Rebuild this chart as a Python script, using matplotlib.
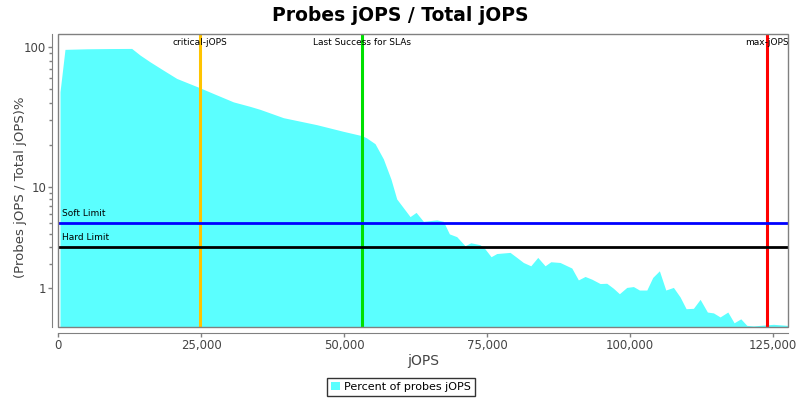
import numpy as np
import matplotlib
matplotlib.use("Agg")
import matplotlib.pyplot as plt
from matplotlib.patches import Rectangle, Patch
from matplotlib.ticker import FixedLocator, FuncFormatter, NullFormatter

# ---- data ----
jops = [350, 1220, 5000, 9000, 12880, 14340, 16080, 18410, 20750, 24700,
        27150, 30650, 33570, 35310, 39390, 45230, 49880, 53090, 53900, 55420,
        56870, 58200, 59210, 61540, 62590, 63870, 66200, 67360, 68410, 69700,
        71150, 72150, 73780, 74650, 75700, 76690, 79020, 80190, 81350, 82640,
        83860, 85140, 86140, 87760, 89810, 90960, 92130, 93300, 94760, 95920,
        97080, 98130, 99420, 100580, 101630, 102920, 103960, 105120, 106240, 107570,
        108740, 109790, 111070, 112240, 113510, 114570, 115730, 117080, 118180, 119350,
        120400, 121560, 122730, 125050, 127500]
percent = [47.9, 96.3, 97.2, 97.6, 97.8, 87.7, 78.5, 68.4, 59.7, 51.4,
           46.6, 40.6, 37.7, 35.9, 31.3, 27.9, 25.0, 23.3, 22.5, 20.4,
           15.9, 11.4, 8.02, 5.72, 6.21, 5.21, 5.36, 5.21, 4.03, 3.80,
           3.12, 3.33, 3.19, 2.90, 2.42, 2.61, 2.68, 2.38, 2.10, 1.93,
           2.38, 1.93, 2.14, 2.10, 1.82, 1.30, 1.44, 1.33, 1.16, 1.17,
           0.99, 0.81, 1.02, 1.05, 0.93, 0.93, 1.40, 1.69, 0.93, 1.02,
           0.71, 0.39, 0.40, 0.64, 0.31, 0.29, 0.20, 0.31, 0.08, 0.16,
           0.03, 0.02, 0.03, 0.05, 0.03]

v_markers = [24750, 53200, 124000]
v_labels = ["critical-jOPS", "Last Success for SLAs", "max-jOPS"]
v_colors = ["#FFC400", "#00E000", "#FF0000"]
h_markers = [5, 3]
h_labels = ["Soft Limit", "Hard Limit"]
h_colors = ["#0000FF", "#000000"]
x_ticks = [0, 25000, 50000, 75000, 100000, 125000]
y_major = [1, 10, 100]
y_minor = [2, 3, 4, 5, 6, 7, 8, 9, 20, 30, 40, 50, 60, 70, 80, 90]


# JFreeChart-style adjusted log scale
def fwd(v):
    v = np.asarray(v, dtype=float)
    with np.errstate(invalid="ignore", divide="ignore"):
        return np.where(v < 10, np.log10(0.9 * v + 1), np.log10(np.maximum(v, 1e-12)))


def inv(y):
    y = np.asarray(y, dtype=float)
    return np.where(y < 1, (10 ** y - 1) / 0.9, 10 ** y)


fig = plt.figure(figsize=(8, 4), dpi=100)
ax = fig.add_axes([58 / 800, 1 - 327 / 400, 730 / 800, 293 / 400])
ax.set_yscale("function", functions=(fwd, inv))

ax.fill_between(jops, percent, 0, color="#5BFFFF", linewidth=0, zorder=1)

ax.set_xlim(0, 127600)
ax.set_ylim(0, 124)

for xv, lab, c in zip(v_markers, v_labels, v_colors):
    ax.axvline(xv, color=c, lw=2.2, zorder=3)
    ax.text(xv, 0.985, lab, transform=ax.get_xaxis_transform(), ha="center",
            va="top", fontsize=6.5, color="black", zorder=4, clip_on=True)

for yv, lab, c in zip(h_markers, h_labels, h_colors):
    ax.axhline(yv, color=c, lw=2, zorder=3)
    ax.annotate(lab, xy=(0, yv), xycoords=("axes fraction", "data"),
                xytext=(3, 4), textcoords="offset points", ha="left",
                va="bottom", fontsize=6.5, color="black", zorder=4)

ax.yaxis.set_major_locator(FixedLocator(y_major))
ax.yaxis.set_minor_locator(FixedLocator(y_minor))
ax.yaxis.set_major_formatter(FuncFormatter(lambda v, p: f"{v:g}"))
ax.yaxis.set_minor_formatter(NullFormatter())
ax.set_xticks(x_ticks)
ax.xaxis.set_major_formatter(FuncFormatter(lambda v, p: f"{int(v):,}"))

for s in ["top", "right"]:
    ax.spines[s].set_visible(False)
for s in ["left", "bottom"]:
    ax.spines[s].set_position(("outward", 4))
    ax.spines[s].set_color("#808080")
ax.add_patch(Rectangle((0, 0), 1, 1, transform=ax.transAxes, fill=False,
                       ec="#808080", lw=1, zorder=5, clip_on=False))

ax.tick_params(axis="both", which="major", colors="#808080", labelcolor="#444444",
               labelsize=8.5, length=3, width=1, pad=1.5)
ax.tick_params(axis="y", which="minor", colors="#808080", length=2, width=1)

ax.set_xlabel("jOPS", fontsize=10, color="#444444")
ax.xaxis.set_label_coords(0.5, -0.093)
ax.set_ylabel("(Probes jOPS / Total jOPS)%", fontsize=9.5, color="#444444")
ax.yaxis.set_label_coords(-0.0425, 0.478)
fig.suptitle("Probes jOPS / Total jOPS", fontsize=13.5, fontweight="bold", y=0.985)

handle = Patch(facecolor="#5BFFFF", edgecolor="none")
leg = fig.legend([handle], ["Percent of probes jOPS"], loc="center",
                 bbox_to_anchor=(401 / 800, 1 - 387 / 400), fontsize=8,
                 frameon=True, fancybox=False, edgecolor="black",
                 handlelength=0.8, handleheight=0.8, handletextpad=0.4,
                 borderpad=0.35)
leg.get_frame().set_linewidth(1)

fig.savefig("out.png", dpi=100, facecolor="white")
